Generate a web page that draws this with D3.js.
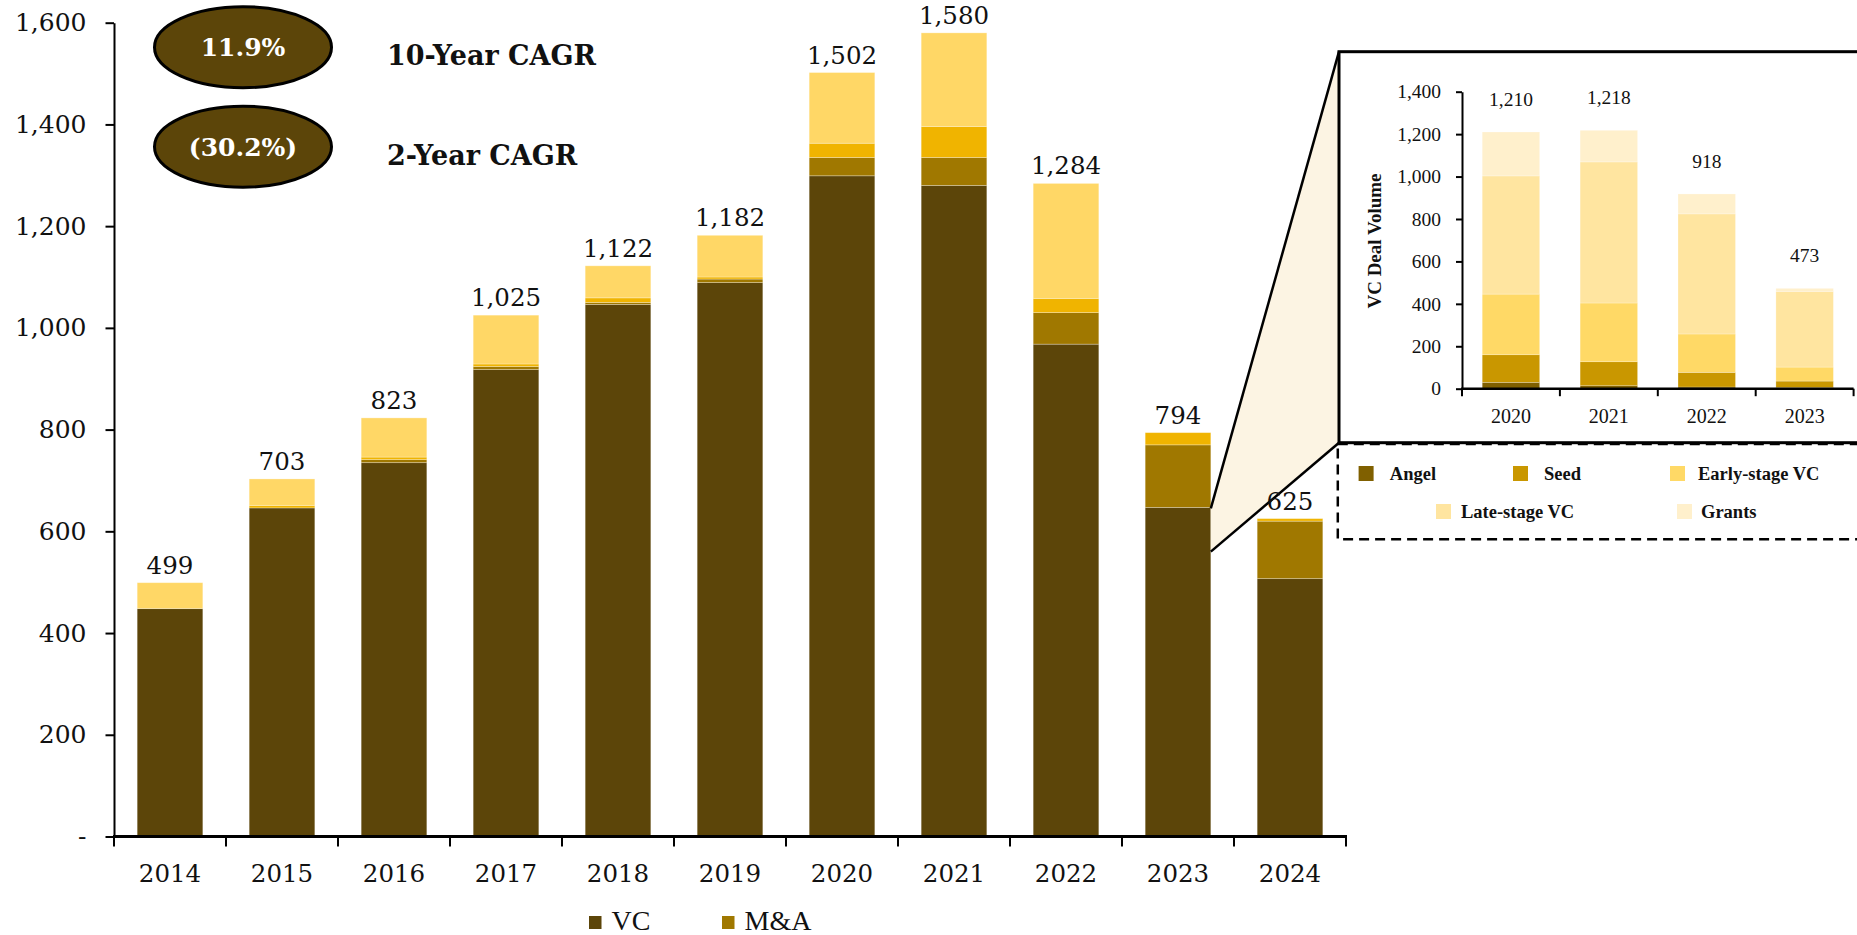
<!DOCTYPE html>
<html>
<head>
<meta charset="utf-8">
<script src="https://cdn.jsdelivr.net/npm/d3@7"></script>
<style>
  html, body { margin: 0; padding: 0; background: #ffffff; }
  svg { display: block; }
</style>
</head>
<body>
<svg id="chart" width="1857" height="935"></svg>
<script>
// ---- Main chart data: deal volume by year, stacked by deal type ----
const years = ["2014", "2015", "2016", "2017", "2018", "2019", "2020", "2021", "2022", "2023", "2024"];
const vcValues    = [448, 646, 735, 918, 1046, 1089, 1299, 1280, 968, 647, 507];
const maValues    = [0, 0, 6, 6, 4, 7, 36, 55, 62, 123, 113];
const peValues    = [0, 5, 5, 5, 9, 4, 28, 61, 28, 24, 5];
const otherValues = [51, 52, 77, 96, 63, 82, 139, 184, 226, 0, 0];
const yTicks = [0, 200, 400, 600, 800, 1000, 1200, 1400, 1600];

// CAGR call-outs
const cagrValues = ["11.9%", "(30.2%)"];
const cagrLabels = ["10-Year CAGR", "2-Year CAGR"];

// ---- Inset data: VC deal volume by stage ----
const insetYears = ["2020", "2021", "2022", "2023"];
const angelValues  = [30, 14, 8, 5];
const seedValues   = [130, 113, 69, 31];
const earlyValues  = [286, 277, 181, 66];
const lateValues   = [557, 665, 566, 357];
const grantValues  = [207, 149, 94, 14];
const insetTicks = [0, 200, 400, 600, 800, 1000, 1200, 1400];

const mainSeries = [
  { key: "vc",    name: "VC",    values: vcValues,    color: "#5C4509" },
  { key: "ma",    name: "M&A",   values: maValues,    color: "#A07800" },
  { key: "pe",    name: "PE",    values: peValues,    color: "#F0B400" },
  { key: "other", name: "Other", values: otherValues, color: "#FFD766" }
];
const insetSeries = [
  { key: "angel", name: "Angel",          values: angelValues, color: "#806000" },
  { key: "seed",  name: "Seed",           values: seedValues,  color: "#C99700" },
  { key: "early", name: "Early-stage VC", values: earlyValues, color: "#FFD966" },
  { key: "late",  name: "Late-stage VC",  values: lateValues,  color: "#FFE5A0" },
  { key: "grant", name: "Grants",         values: grantValues, color: "#FFF0CC" }
];

const svg = d3.select("#chart");
const serif = "'DejaVu Serif', Georgia, serif";
const times = "'Liberation Serif', 'Times New Roman', serif";
const fmt = d3.format(",");
const ink = "#111";

// ---------------- Main chart ----------------
const x = d3.scaleBand().domain(years).range([114, 1346]).paddingInner(0.414).paddingOuter(0.207);
const y = d3.scaleLinear().domain([0, 1600]).range([836.5, 22.7]);

const mainRows = years.map((yr, i) => {
  const row = { year: yr };
  mainSeries.forEach(s => row[s.key] = s.values[i]);
  return row;
});
const mainStack = d3.stack().keys(mainSeries.map(s => s.key))(mainRows);

// zoom wedge connecting the 2023 bar to the inset panel
const boxLeft = 1339, boxTop = 51.7, boxBottom = 442.7;
const bar23Right = x("2023") + x.bandwidth();
const wedge = [
  [bar23Right, y(645)], [boxLeft, boxTop], [boxLeft, boxBottom], [bar23Right, y(560)]
];

svg.append("g").selectAll("g.layer").data(mainStack).join("g")
  .attr("class", "layer")
  .attr("fill", (d, i) => mainSeries[i].color)
  .selectAll("rect").data(d => d).join("rect")
    .attr("x", d => x(d.data.year))
    .attr("width", x.bandwidth())
    .attr("y", d => y(d[1]))
    .attr("height", d => Math.max(0, y(d[0]) - y(d[1])))
    .attr("stroke", "#ffffff")
    .attr("stroke-opacity", 0.35)
    .attr("stroke-width", 0.8);

svg.append("path")
  .attr("d", d3.line()(wedge) + "Z")
  .attr("fill", "#FCF4E3")
  .attr("stroke", "none");
svg.append("line")
  .attr("x1", wedge[0][0]).attr("y1", wedge[0][1]).attr("x2", wedge[1][0]).attr("y2", wedge[1][1])
  .attr("stroke", "#000").attr("stroke-width", 2.5);
svg.append("line")
  .attr("x1", wedge[3][0]).attr("y1", wedge[3][1]).attr("x2", wedge[2][0]).attr("y2", wedge[2][1])
  .attr("stroke", "#000").attr("stroke-width", 2.5);

// total labels
svg.append("g").selectAll("text").data(mainRows).join("text")
  .attr("x", d => x(d.year) + x.bandwidth() / 2)
  .attr("y", d => y(d3.sum(mainSeries, s => d[s.key])) - 9)
  .attr("text-anchor", "middle")
  .attr("font-family", serif).attr("font-size", 24.5).attr("fill", ink)
  .text(d => fmt(d3.sum(mainSeries, s => d[s.key])));

// y axis
const yAxis = d3.axisLeft(y).tickValues(yTicks).tickSize(8.5).tickSizeOuter(0).tickPadding(19)
  .tickFormat(d => d === 0 ? "-" : fmt(d));
const gy = svg.append("g").attr("transform", "translate(114,0)").call(yAxis);
gy.select(".domain").attr("stroke", "#000").attr("stroke-width", 2);
gy.selectAll(".tick line").attr("stroke", "#000").attr("stroke-width", 2);
gy.selectAll(".tick text").attr("font-family", serif).attr("font-size", 25).attr("fill", ink);

// x axis: baseline, boundary ticks, year labels
const step = x.step();
const boundaries = years.map(yr => x(yr) - (step - x.bandwidth()) / 2)
  .concat([x(years[years.length - 1]) + x.bandwidth() + (step - x.bandwidth()) / 2]);
svg.append("g").selectAll("line").data(boundaries).join("line")
  .attr("x1", d => d).attr("x2", d => d).attr("y1", y(0)).attr("y2", y(0) + 10)
  .attr("stroke", "#000").attr("stroke-width", 2);
svg.append("line")
  .attr("x1", boundaries[0] - 1).attr("x2", boundaries[boundaries.length - 1] + 1)
  .attr("y1", y(0)).attr("y2", y(0))
  .attr("stroke", "#000").attr("stroke-width", 3);
svg.append("g").selectAll("text").data(years).join("text")
  .attr("x", d => x(d) + x.bandwidth() / 2)
  .attr("y", 882)
  .attr("text-anchor", "middle")
  .attr("font-family", serif).attr("font-size", 24.5).attr("fill", ink)
  .text(d => d);

// bottom legend
const legendMain = [
  { s: mainSeries[0], x: 589 },
  { s: mainSeries[1], x: 722 }
];
const gLeg = svg.append("g");
legendMain.forEach(l => {
  gLeg.append("rect").attr("x", l.x).attr("y", 916).attr("width", 12.5).attr("height", 13).attr("fill", l.s.color);
  gLeg.append("text").attr("x", l.x + 22.5).attr("y", 929.5)
    .attr("font-family", times).attr("font-size", 28).attr("fill", ink)
    .text(l.s.name);
});

// CAGR call-outs
const cagrY = [47.2, 146.7];
cagrValues.forEach((v, i) => {
  svg.append("ellipse")
    .attr("cx", 243).attr("cy", cagrY[i]).attr("rx", 88.5).attr("ry", 40.5)
    .attr("fill", "#5C4509").attr("stroke", "#000").attr("stroke-width", 3);
  svg.append("text")
    .attr("x", 243).attr("y", cagrY[i] + 9)
    .attr("text-anchor", "middle")
    .attr("font-family", serif).attr("font-weight", "bold").attr("font-size", 25).attr("fill", "#ffffff")
    .text(v);
  svg.append("text")
    .attr("x", 387).attr("y", cagrY[i] + 18)
    .attr("font-family", serif).attr("font-weight", "bold").attr("font-size", 27).attr("fill", ink)
    .text(cagrLabels[i]);
});

// ---------------- Inset panel ----------------
svg.append("rect")
  .attr("x", 1337.8).attr("y", 444).attr("width", 560).attr("height", 95.3)
  .attr("fill", "none").attr("stroke", "#000").attr("stroke-width", 2.5)
  .attr("stroke-dasharray", "10,6");
svg.append("rect")
  .attr("x", boxLeft).attr("y", boxTop).attr("width", 560).attr("height", boxBottom - boxTop)
  .attr("fill", "#ffffff").attr("stroke", "#000").attr("stroke-width", 3);

const xi = d3.scaleBand().domain(insetYears).range([1462, 1853.6]).paddingInner(0.413).paddingOuter(0.2065);
const yi = d3.scaleLinear().domain([0, 1400]).range([388.7, 91.7]);

const insetRows = insetYears.map((yr, i) => {
  const row = { year: yr };
  insetSeries.forEach(s => row[s.key] = s.values[i]);
  return row;
});
const insetStack = d3.stack().keys(insetSeries.map(s => s.key))(insetRows);

svg.append("g").selectAll("g").data(insetStack).join("g")
  .attr("fill", (d, i) => insetSeries[i].color)
  .selectAll("rect").data(d => d).join("rect")
    .attr("x", d => xi(d.data.year))
    .attr("width", xi.bandwidth())
    .attr("y", d => yi(d[1]))
    .attr("height", d => Math.max(0, yi(d[0]) - yi(d[1])))
    .attr("stroke", "#ffffff").attr("stroke-opacity", 0.4).attr("stroke-width", 0.6);

svg.append("g").selectAll("text").data(insetRows).join("text")
  .attr("x", d => xi(d.year) + xi.bandwidth() / 2)
  .attr("y", d => yi(d3.sum(insetSeries, s => d[s.key])) - 26)
  .attr("text-anchor", "middle")
  .attr("font-family", times).attr("font-size", 19.5).attr("fill", ink)
  .text(d => fmt(d3.sum(insetSeries, s => d[s.key])));

const yiAxis = d3.axisLeft(yi).tickValues(insetTicks).tickSize(6).tickSizeOuter(0).tickPadding(15)
  .tickFormat(fmt);
const gyi = svg.append("g").attr("transform", "translate(1462,0)").call(yiAxis);
gyi.select(".domain").attr("stroke", "#000").attr("stroke-width", 2);
gyi.selectAll(".tick line").attr("stroke", "#000").attr("stroke-width", 2);
gyi.selectAll(".tick text").attr("font-family", times).attr("font-size", 19.5).attr("fill", ink);

const stepI = xi.step();
const boundsI = insetYears.map(yr => xi(yr) - (stepI - xi.bandwidth()) / 2)
  .concat([xi(insetYears[insetYears.length - 1]) + xi.bandwidth() + (stepI - xi.bandwidth()) / 2]);
svg.append("g").selectAll("line").data(boundsI).join("line")
  .attr("x1", d => d).attr("x2", d => d).attr("y1", yi(0)).attr("y2", yi(0) + 7.5)
  .attr("stroke", "#000").attr("stroke-width", 2);
svg.append("line")
  .attr("x1", boundsI[0] - 1).attr("x2", boundsI[boundsI.length - 1])
  .attr("y1", yi(0)).attr("y2", yi(0))
  .attr("stroke", "#000").attr("stroke-width", 2.5);
svg.append("g").selectAll("text").data(insetYears).join("text")
  .attr("x", d => xi(d) + xi.bandwidth() / 2)
  .attr("y", 423)
  .attr("text-anchor", "middle")
  .attr("font-family", times).attr("font-size", 20).attr("fill", ink)
  .text(d => d);

svg.append("text")
  .attr("transform", "translate(1381,241) rotate(-90)")
  .attr("text-anchor", "middle")
  .attr("font-family", times).attr("font-weight", "bold").attr("font-size", 19).attr("fill", ink)
  .text("VC Deal Volume");

// inset legend
const insetLegendPos = [
  { x: 1358.6, y: 466, tx: 1389.8 },
  { x: 1513,   y: 466, tx: 1544 },
  { x: 1670,   y: 466, tx: 1698 },
  { x: 1436,   y: 504, tx: 1461 },
  { x: 1677,   y: 504, tx: 1701 }
];
insetSeries.forEach((s, i) => {
  const p = insetLegendPos[i];
  svg.append("rect").attr("x", p.x).attr("y", p.y).attr("width", 15).attr("height", 15).attr("fill", s.color);
  svg.append("text").attr("x", p.tx).attr("y", p.y + 13.5)
    .attr("font-family", times).attr("font-weight", "bold").attr("font-size", 18.5).attr("fill", ink)
    .text(s.name);
});
</script>
</body>
</html>
